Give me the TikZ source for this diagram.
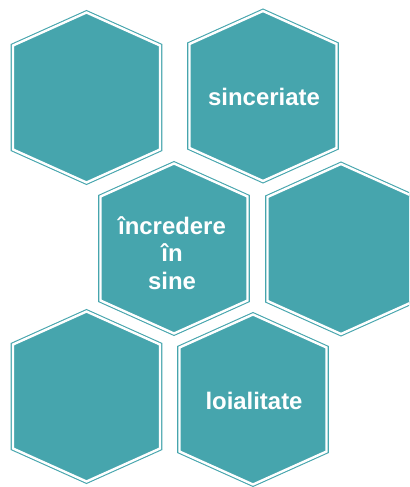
\documentclass[tikz,border=0pt]{standalone}
\usepackage{fontspec}
\setmainfont{Liberation Sans}
\definecolor{hexteal}{RGB}{70,165,173}

\begin{document}
\begin{tikzpicture}[x=1bp, y=-1bp,
    hexouter/.style={fill=hexteal, draw=hexteal, line width=4.6bp, line join=miter},
    hexinner/.style={draw=white, line width=2.4bp, line join=miter},
    hextext/.style={text=white, align=center, font=\bfseries\fontsize{24}{27.5}\selectfont}]
    \useasboundingbox (0,0) rectangle (409,487);
    \clip (0,0) rectangle (409,487);

    % hexagons, centres in picture coordinates
    \foreach \cx/\cy in {86.5/97.5, 263/96, 174/248.5, 341/249, 86.5/396.5, 253/399.5} {
        \draw[hexouter, shift={(\cx,\cy)}] (0,-85) -- (73.5,-52) -- (73.5,52) -- (0,85) -- (-73.5,52) -- (-73.5,-52) -- cycle;
        \draw[hexinner, shift={(\cx,\cy)}] (0,-85) -- (73.5,-52) -- (73.5,52) -- (0,85) -- (-73.5,52) -- (-73.5,-52) -- cycle;
    }

    \node[hextext] (sinceriate) at (264,96.5) {sinceriate};
    \node[hextext] (incredere) at (172,253) {încredere\\în\\sine};
    \node[hextext] (loialitate) at (254,401) {loialitate};
\end{tikzpicture}
\end{document}
